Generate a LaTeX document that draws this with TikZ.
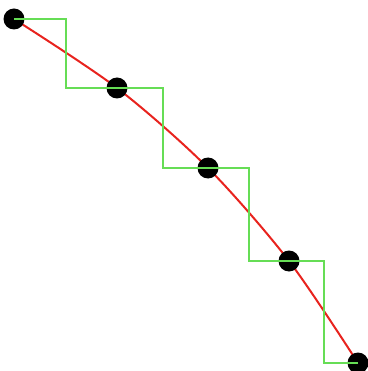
\documentclass[tikz,border=0pt]{standalone}
\usepackage{tikz}
\usetikzlibrary{calc}
\definecolor{curvered}{HTML}{E8231E}
\definecolor{stepgreen}{HTML}{66DD55}
\tikzset{
  sample/.style={circle, fill=black, inner sep=0pt, minimum size=21pt},
  curve/.style={curvered, line width=2pt},
  hold/.style={stepgreen, line width=2pt}
}
\begin{document}
\begin{tikzpicture}[x=1pt,y=-1pt]
  \useasboundingbox (0,0) rectangle (367,371);
  % sample points
  \coordinate (p1) at (14,19);
  \coordinate (p2) at (117,88);
  \coordinate (p3) at (208,168);
  \coordinate (p4) at (289,261);
  \coordinate (p5) at (358,363);
  \draw[curve] plot[smooth] coordinates {(p1) (p2) (p3) (p4) (p5)};
  \foreach \i in {1,...,5}
    \node[sample] (d\i) at (p\i) {};
  % nearest-sample steps
  \draw[hold] (d1.center)
    -| ($(d1.center)!.5!(d2.center)$) |- (d2.center)
    -| ($(d2.center)!.5!(d3.center)$) |- (d3.center)
    -| ($(d3.center)!.5!(d4.center)$) |- (d4.center)
    -| ($(d4.center)!.5!(d5.center)$) |- (d5.center);
\end{tikzpicture}
\end{document}
